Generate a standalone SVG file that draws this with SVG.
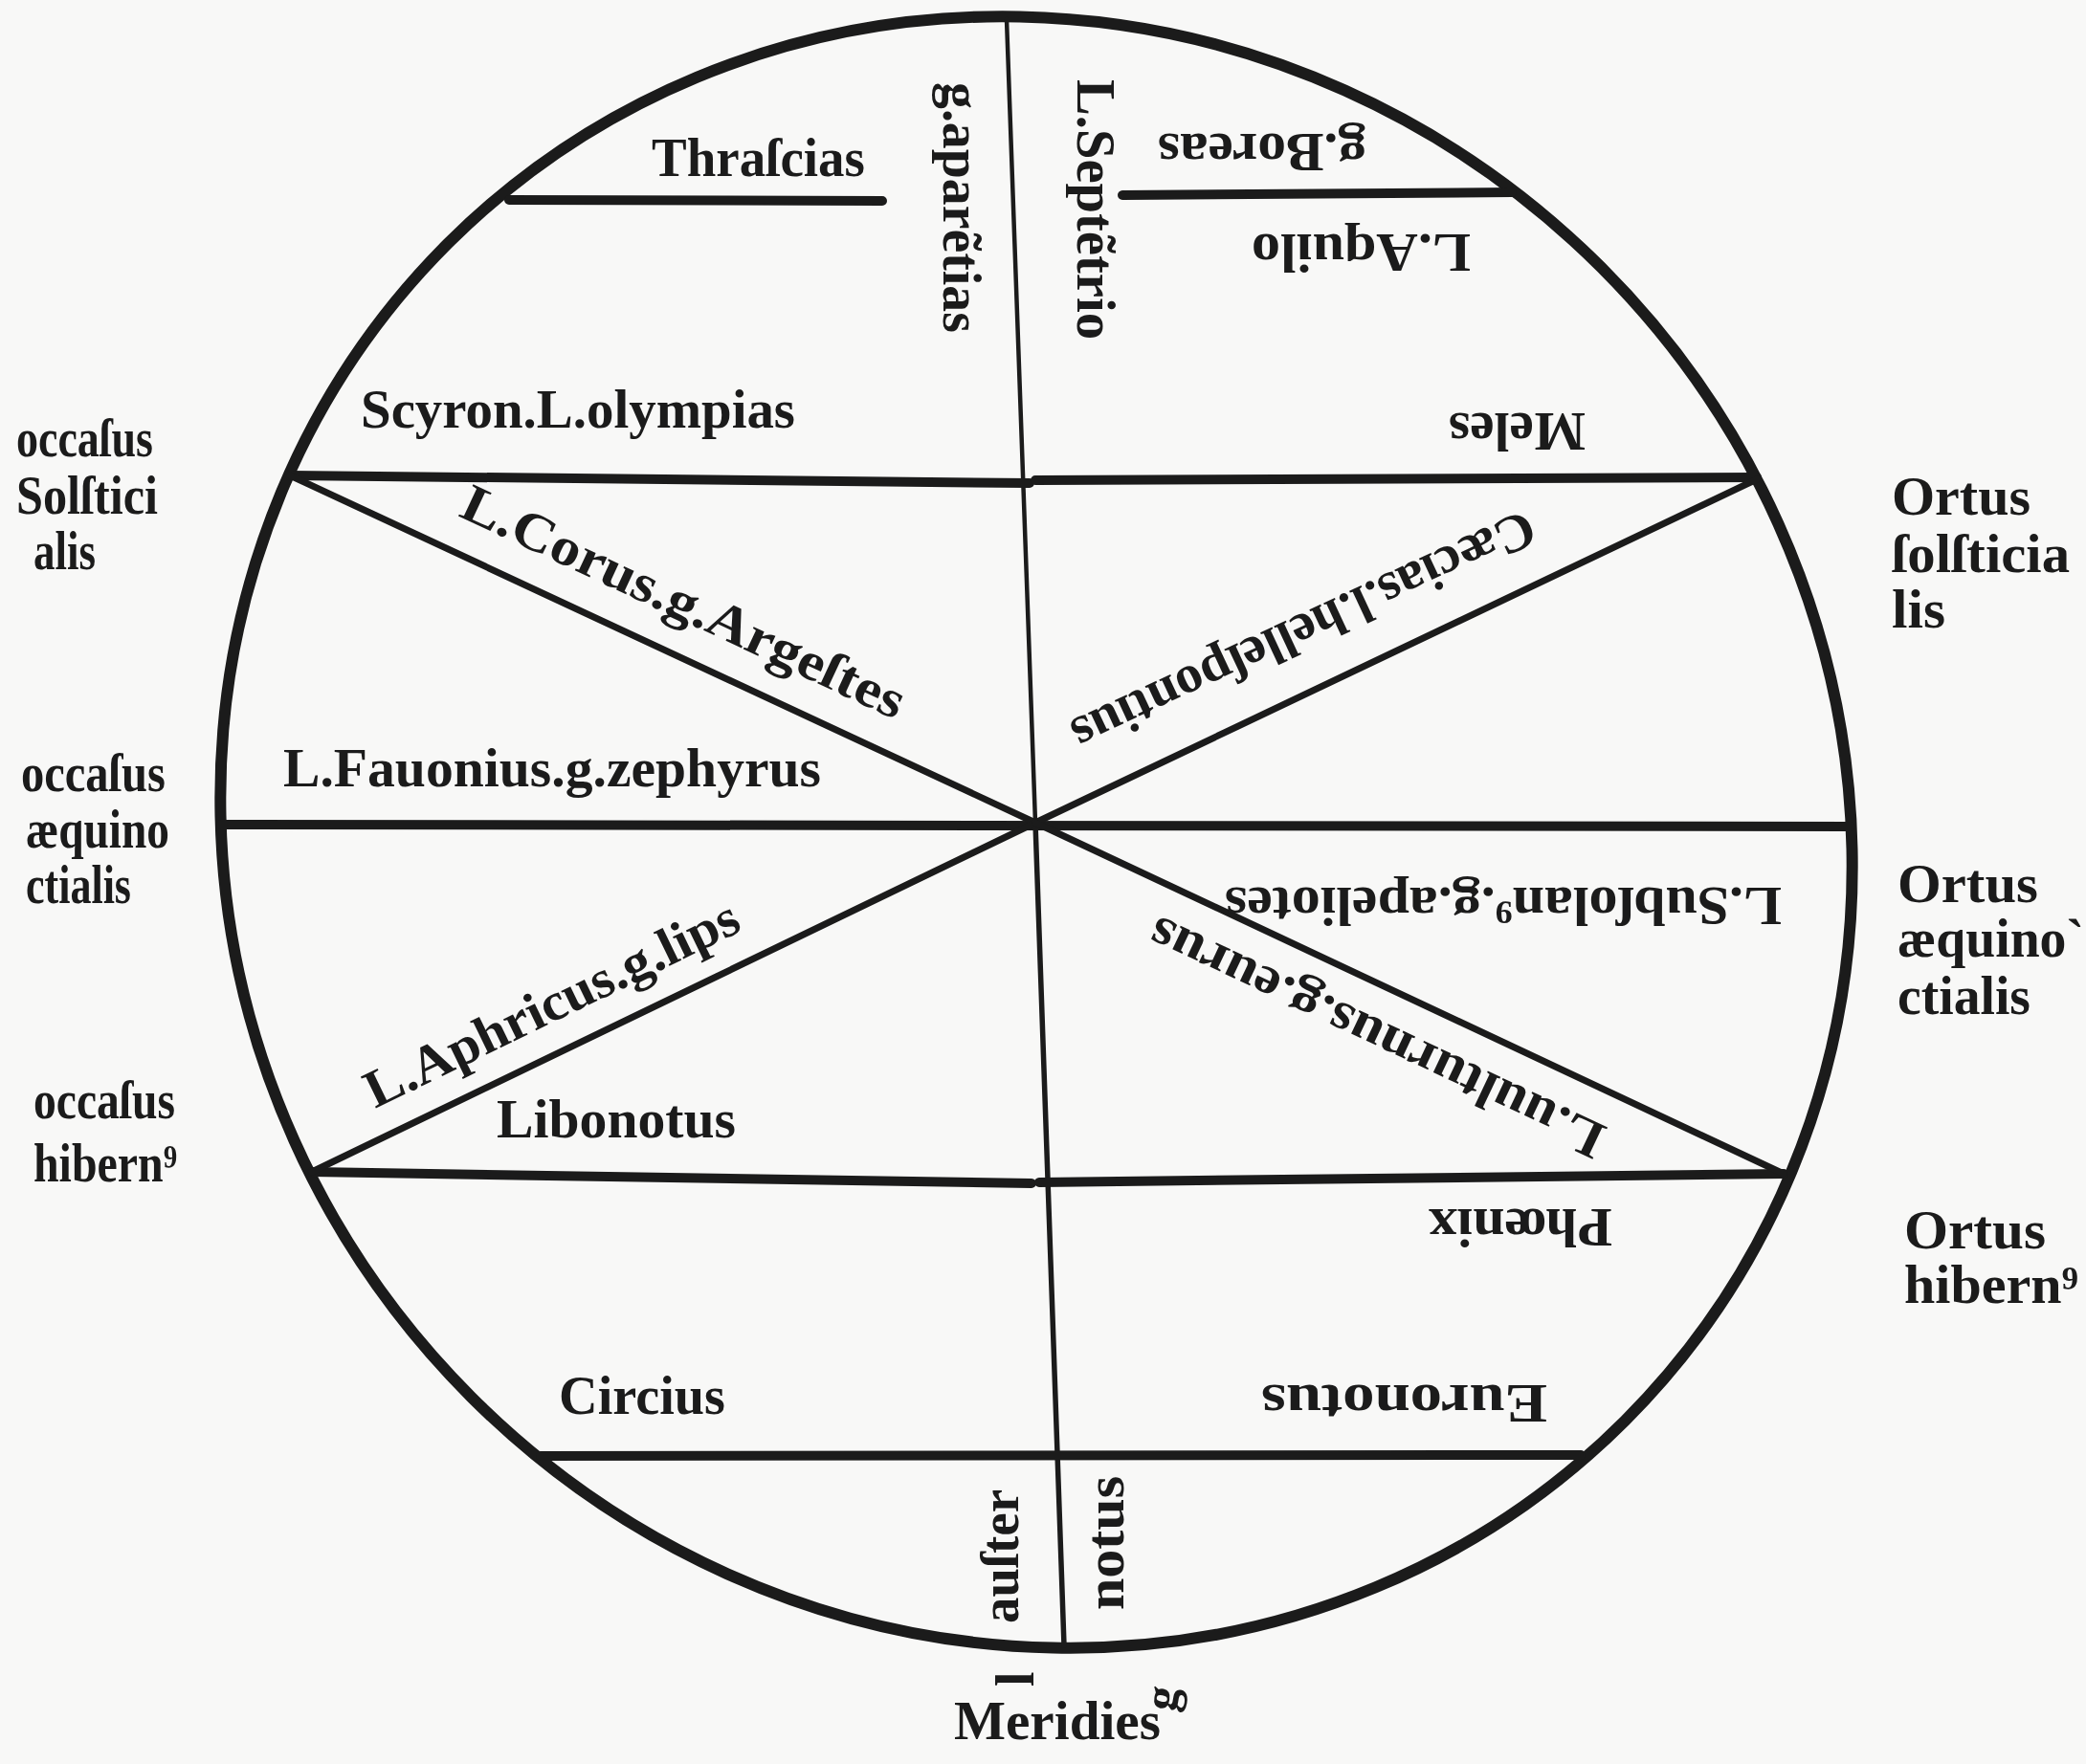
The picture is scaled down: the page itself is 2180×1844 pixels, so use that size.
<svg xmlns="http://www.w3.org/2000/svg" width="2180" height="1844" viewBox="0 0 2180 1844">
<style>
.ink{fill:none;stroke:#1b1b1b;stroke-linecap:round}
.rim{stroke-width:12}
.h{stroke-width:10}
.d{stroke-width:7}
.v{stroke-width:4.5}
text{font-family:"Liberation Serif","DejaVu Serif",serif;font-weight:bold;fill:#1b1b1b;font-size:56px}
</style>
<rect width="2180" height="1844" fill="#f8f8f7"/>
<g id="wheel">
<ellipse id="rim" class="ink rim" cx="1083" cy="870" rx="870" ry="835" transform="rotate(45 1083 870)"/>
</g>
<g id="connectors">
<line class="ink v" x1="1052" y1="20" x2="1082" y2="860"/>
<line class="ink v" x1="1082" y1="860" x2="1112" y2="1720" style="stroke-width:5.5"/>
<line class="ink h" x1="532" y1="209" x2="922" y2="210"/>
<line class="ink h" x1="1173" y1="204" x2="1580" y2="201"/>
<line class="ink h" x1="303" y1="497" x2="1076" y2="505"/>
<line class="ink h" x1="1082" y1="502" x2="1836" y2="499"/>
<line class="ink h" x1="231" y1="862" x2="1934" y2="864"/>
<line class="ink h" x1="326" y1="1225" x2="1078" y2="1237"/>
<line class="ink h" x1="1086" y1="1236" x2="1864" y2="1227"/>
<line class="ink h" x1="565" y1="1522" x2="1652" y2="1521"/>
<line class="ink d" x1="303" y1="497" x2="1082" y2="860"/>
<line class="ink d" x1="1836" y1="501" x2="1082" y2="860"/>
<line class="ink d" x1="326" y1="1225" x2="1082" y2="860"/>
<line class="ink d" x1="1864" y1="1227" x2="1082" y2="860"/>
</g>
<g id="inner-labels">
<g id="thrascias"><text x="681" y="184" textLength="223" lengthAdjust="spacingAndGlyphs">Thraſcias</text></g>
<g id="scyron"><text x="377" y="447" textLength="454" lengthAdjust="spacingAndGlyphs">Scyron.L.olympias</text></g>
<g id="fauonius"><text x="296" y="822" textLength="562" lengthAdjust="spacingAndGlyphs">L.Fauonius.g.zephyrus</text></g>
<g id="libonotus"><text x="519" y="1189" textLength="250" lengthAdjust="spacingAndGlyphs">Libonotus</text></g>
<g id="circius"><text x="584" y="1478" textLength="174" lengthAdjust="spacingAndGlyphs">Circius</text></g>
<g id="boreas"><text x="1428" y="140" transform="rotate(180 1428 140)" textLength="218" lengthAdjust="spacingAndGlyphs">g.Boreas</text></g>
<g id="aquilo"><text x="1537" y="245" transform="rotate(180 1537 245)" textLength="229" lengthAdjust="spacingAndGlyphs">L.Aquilo</text></g>
<g id="meles"><text x="1657" y="432" transform="rotate(180 1657 432)" textLength="143" lengthAdjust="spacingAndGlyphs">Meles</text></g>
<g id="subsolanus"><text x="1862" y="928" transform="rotate(180 1862 928)" textLength="582" lengthAdjust="spacingAndGlyphs">L.Subſolan⁹.g.apeliotes</text></g>
<g id="phoenix"><text x="1685" y="1264" transform="rotate(180 1685 1264)" textLength="192" lengthAdjust="spacingAndGlyphs">Phœnix</text></g>
<g id="euronotus"><text x="1617" y="1448" transform="rotate(180 1617 1448)" textLength="299" lengthAdjust="spacingAndGlyphs">Euronotus</text></g>
<g id="caecias"><text x="1594" y="532" transform="rotate(155 1594 532)" textLength="528" lengthAdjust="spacingAndGlyphs">Cæcias.l.helleſpontius</text></g>
<g id="corus"><text x="478" y="539" transform="rotate(25 478 539)" textLength="505" lengthAdjust="spacingAndGlyphs">L.Corus.g.Argeſtes</text></g>
<g id="aphricus"><text x="392" y="1159" transform="rotate(-25.9 392 1159)" textLength="428" lengthAdjust="spacingAndGlyphs">L.Aphricus.g.lips</text></g>
<g id="uulturnus"><text x="1681" y="1179" transform="rotate(205.3 1681 1179)" textLength="520" lengthAdjust="spacingAndGlyphs">L.uulturnus.g.eurus</text></g>
<g id="aparctias"><text x="986" y="86" transform="rotate(90 986 86)" textLength="262" lengthAdjust="spacingAndGlyphs">g.aparẽtias</text></g>
<g id="septentrio"><text x="1126" y="83" transform="rotate(90 1126 83)" textLength="272" lengthAdjust="spacingAndGlyphs">L.Septẽtrio</text></g>
<g id="auster"><text x="1064" y="1697" transform="rotate(-90 1064 1697)" textLength="140" lengthAdjust="spacingAndGlyphs">auſter</text></g>
<g id="notus"><text x="1174" y="1683" transform="rotate(-90 1174 1683)" textLength="140" lengthAdjust="spacingAndGlyphs">notus</text></g>
</g>
<g id="meridies">
<text x="1080" y="1763" transform="rotate(-90 1080 1763)">l</text>
<text x="1213" y="1792" transform="rotate(-80 1213 1775)" text-anchor="middle" style="font-size:50px">g</text>
<text x="997" y="1818" textLength="216" lengthAdjust="spacingAndGlyphs">Meridies</text>
</g>
<g id="occasus-solsticialis">
<text><tspan x="17" y="477" textLength="143" lengthAdjust="spacingAndGlyphs">occaſus</tspan><tspan x="17" y="537" textLength="148" lengthAdjust="spacingAndGlyphs">Solſtici</tspan><tspan x="35" y="595" textLength="65" lengthAdjust="spacingAndGlyphs">alis</tspan></text>
</g>
<g id="occasus-aequinoctialis">
<text><tspan x="22" y="827" textLength="151" lengthAdjust="spacingAndGlyphs">occaſus</tspan><tspan x="27" y="886" textLength="150" lengthAdjust="spacingAndGlyphs">æquino</tspan><tspan x="27" y="944" textLength="110" lengthAdjust="spacingAndGlyphs">ctialis</tspan></text>
</g>
<g id="occasus-hibernus">
<text><tspan x="35" y="1169" textLength="148" lengthAdjust="spacingAndGlyphs">occaſus</tspan><tspan x="35" y="1235" textLength="150" lengthAdjust="spacingAndGlyphs">hibern⁹</tspan></text>
</g>
<g id="ortus-solsticialis">
<text><tspan x="1977" y="538" textLength="145" lengthAdjust="spacingAndGlyphs">Ortus</tspan><tspan x="1977" y="598" textLength="186" lengthAdjust="spacingAndGlyphs">ſolſticia</tspan><tspan x="1977" y="656" textLength="56" lengthAdjust="spacingAndGlyphs">lis</tspan></text>
</g>
<g id="ortus-aequinoctialis">
<text><tspan x="1983" y="943" textLength="147" lengthAdjust="spacingAndGlyphs">Ortus</tspan><tspan x="1983" y="1000" textLength="195" lengthAdjust="spacingAndGlyphs">æquino`</tspan><tspan x="1983" y="1060" textLength="139" lengthAdjust="spacingAndGlyphs">ctialis</tspan></text>
</g>
<g id="ortus-hibernus">
<text><tspan x="1990" y="1305" textLength="148" lengthAdjust="spacingAndGlyphs">Ortus</tspan><tspan x="1990" y="1362" textLength="182" lengthAdjust="spacingAndGlyphs">hibern⁹</tspan></text>
</g>
</svg>
